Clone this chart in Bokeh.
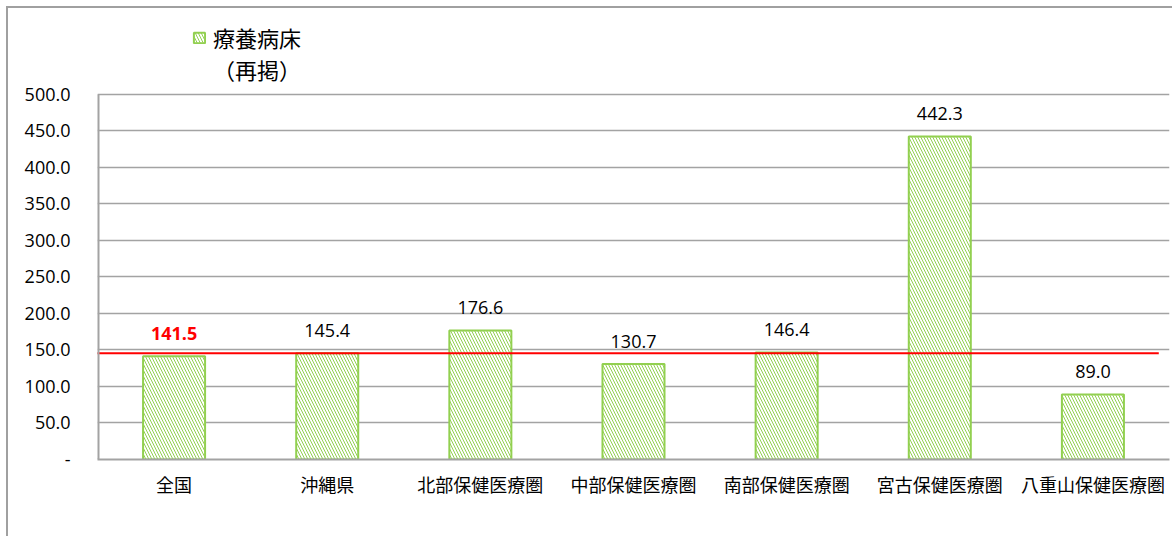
from bokeh.plotting import figure
from bokeh.layouts import column, row
from bokeh.models import (ColumnDataSource, FixedTicker, Legend, LegendItem,
                          Spacer, Range1d)
from bokeh.core.properties import value
from bokeh.embed import file_html
from bokeh.resources import INLINE

# ---- data ----
categories = ["全国", "沖縄県", "北部保健医療圏", "中部保健医療圏", "南部保健医療圏",
              "宮古保健医療圏", "八重山保健医療圏"]
beds = [141.5, 145.4, 176.6, 130.7, 146.4, 442.3, 89.0]
reference_value = 145.4          # red reference line (沖縄県)
y_ticks = [0, 50, 100, 150, 200, 250, 300, 350, 400, 450, 500]
series_name = "療養病床"
series_note = "（再掲）"

GREEN = "#92D050"
GRID = "#A3A3A3"
JP = "Noto Sans CJK JP"
LAT = "Open Sans"

# frame reaches the top of the canvas so the legend can sit above the 500 line
p = figure(x_range=categories, y_range=Range1d(0, 617.7), width=1166, height=530,
           output_backend="svg", toolbar_location=None,
           min_border_left=89, min_border_right=5, min_border_top=0,
           min_border_bottom=79,
           styles={"border-top": "2px solid #A0A0A0",
                   "border-left": "2px solid #A0A0A0"})
p.outline_line_color = None
p.background_fill_color = "white"

src = ColumnDataSource(dict(
    cat=categories, val=beds,
    lbl=[f"{v:.1f}" for v in beds],
    col=["#FF0000"] + ["#000000"] * (len(beds) - 1),
    sty=["bold"] + ["normal"] * (len(beds) - 1),
))

bars = p.vbar(x="cat", top="val", width=0.405, source=src,
              fill_color="white", line_color=GREEN, line_width=2,
              hatch_pattern="\\", hatch_color=GREEN, hatch_scale=6,
              hatch_weight=1.0)

p.text(x="cat", y="val", text="lbl", source=src, text_align="center",
       text_baseline="middle", y_offset=-23, text_font=value(LAT),
       text_font_size="18px", text_color="col", text_font_style="sty")

# red reference line
p.line(x=[-0.026, 6.93], y=[reference_value, reference_value],
       line_color="#FF0000", line_width=2)

# vertical axis line only up to the top tick
p.line(x=[0, 0], y=[y_ticks[0], y_ticks[-1]], line_color=GRID, line_width=4)

# invisible renderer carrying the second legend line
note = p.vbar(x=[categories[0]], top=[0], width=0.4, fill_alpha=0, line_alpha=0)

# axes
p.yaxis.ticker = FixedTicker(ticks=y_ticks)
p.yaxis.major_label_overrides = {t: (f"{t:.1f}" if t else "-") for t in y_ticks}
p.yaxis.major_tick_out = 0
p.yaxis.major_tick_in = 0
p.yaxis.minor_tick_out = 0
p.yaxis.minor_tick_in = 0
p.yaxis.major_label_standoff = 27
p.yaxis.major_label_text_font = LAT
p.yaxis.major_label_text_font_size = "18px"
p.yaxis.major_label_text_color = "black"
p.yaxis.axis_line_color = None

p.xaxis.major_tick_out = 0
p.xaxis.major_tick_in = 0
p.xaxis.major_label_standoff = 11
p.xaxis.major_label_text_font = JP
p.xaxis.major_label_text_font_size = "18px"
p.xaxis.major_label_text_color = "black"
p.xaxis.axis_line_color = GRID
p.xaxis.axis_line_width = 2

p.xgrid.grid_line_color = None
p.ygrid.grid_line_color = GRID
p.ygrid.grid_line_width = 1.5

# legend
legend = Legend(items=[LegendItem(label=series_name, renderers=[bars]),
                       LegendItem(label=series_note, renderers=[note])],
                location=(95, 374), orientation="vertical",
                glyph_width=14, glyph_height=13, padding=0, margin=0,
                spacing=0, label_height=31,
                label_text_font=JP, label_text_font_size="22px",
                label_text_color="black",
                label_standoff=7, border_line_color=None,
                background_fill_alpha=0)
p.add_layout(legend, "center")

layout = column(Spacer(height=6), row(Spacer(width=6), p))
open("out.html", "w").write(file_html(layout, INLINE))
